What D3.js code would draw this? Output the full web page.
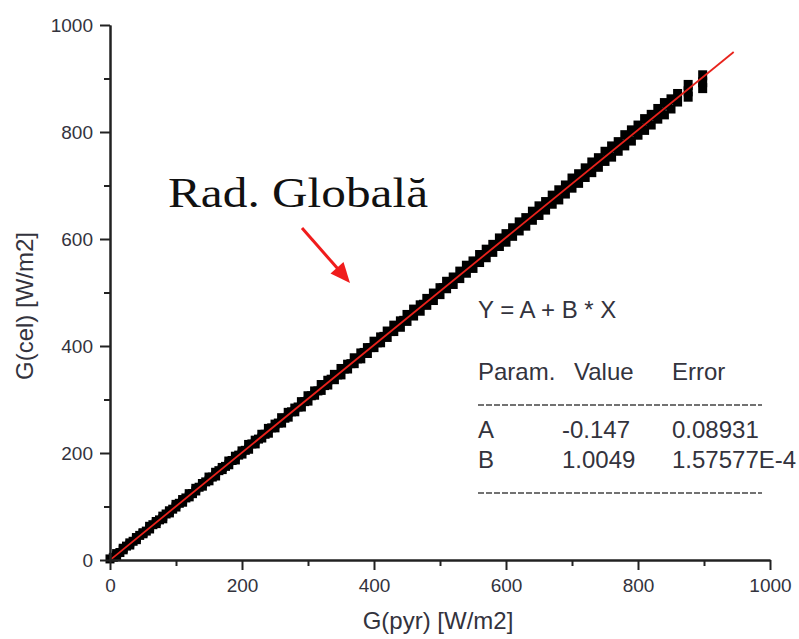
<!DOCTYPE html>
<html><head><meta charset="utf-8">
<script src="https://cdn.jsdelivr.net/npm/d3@7"></script>
<style>body{margin:0;background:#fff}svg{display:block}</style>
</head><body>
<svg id="c" width="799" height="639"></svg>
<script>
// ---- data ----
const xTicks = [0, 200, 400, 600, 800, 1000];
const xMinor = [100, 300, 500, 700, 900];
const yTicks = [0, 200, 400, 600, 800, 1000];
const yMinor = [100, 300, 500, 700, 900];

const upperBand = [[0,2],[10,12],[20,22],[30,32],[40,42],[50,51],[60,63],[70,72],[80,82],[90,92],[100,104],[110,113],[120,124],[130,134],[140,143],[150,155],[160,164],[170,173],[180,185],[190,194],[200,204],[210,216],[220,224],[230,235],[240,246],[250,254],[260,266],[270,276],[280,284],[290,296],[300,307],[310,316],[320,328],[330,336],[340,347],[350,358],[360,366],[370,378],[380,387],[390,397],[400,409],[410,417],[420,428],[430,439],[440,447],[450,459],[460,469],[470,477],[480,489],[490,499],[500,509],[510,521],[520,529],[530,540],[540,551],[550,559],[560,571],[570,581],[580,590],[590,602],[600,610],[610,621],[620,632],[630,640],[640,652],[650,662],[660,670],[670,682],[680,692],[690,701],[700,714],[710,722],[720,733],[730,744],[740,752],[750,764],[760,774],[770,782],[780,795],[790,804],[800,813],[810,825],[820,833],[830,844],[840,855],[850,862],[860,872]];
const centerBand = [[5,5],[15,14],[25,26],[35,35],[45,46],[55,54],[65,66],[75,75],[85,86],[95,95],[105,106],[115,116],[125,124],[135,136],[145,146],[155,155],[165,167],[175,175],[185,186],[195,196],[205,205],[215,217],[225,226],[235,235],[245,247],[255,256],[265,265],[275,277],[285,286],[295,296],[305,307],[315,316],[325,326],[335,338],[345,346],[355,357],[365,367],[375,376],[385,388],[395,397],[405,406],[415,418],[425,427],[435,437],[445,448],[455,457],[465,467],[475,478],[485,487],[495,497],[505,509],[515,517],[525,528],[535,539],[545,547],[555,558],[565,569],[575,577],[585,588],[595,599],[605,607],[615,619],[625,629],[635,637],[645,649],[655,659],[665,667],[675,679],[685,689],[695,698],[705,710],[715,719],[725,728],[735,740],[745,748],[755,759],[765,770],[775,778],[785,789],[795,800],[805,808],[815,820],[825,830],[835,838],[845,850],[855,860]];
const lowerBand = [[10,8],[20,19],[30,28],[40,38],[50,49],[60,58],[70,68],[80,77],[90,88],[100,99],[110,108],[120,118],[130,129],[140,138],[150,148],[160,157],[170,169],[180,178],[190,187],[200,198],[210,207],[220,217],[230,228],[240,237],[250,247],[260,256],[270,267],[280,277],[290,286],[300,297],[310,308],[320,317],[330,327],[340,337],[350,346],[360,357],[370,367],[380,376],[390,386],[400,397],[410,406],[420,416],[430,427],[440,435],[450,446],[460,456],[470,465],[480,476],[490,485],[500,496],[510,507],[520,515],[530,526],[540,536],[550,545],[560,556],[570,565],[580,575],[590,586],[600,594],[610,605],[620,615],[630,624],[640,635],[650,644],[660,654],[670,665],[680,673],[690,684],[700,695],[710,704],[720,715],[730,724],[740,734],[750,745],[760,753],[770,764],[780,774],[790,783],[800,794],[810,803],[820,813],[830,824],[840,832],[850,843],[860,856]];
const outliers = [[876,866],[876,876],[876,888],[898,882],[898,893],[898,906]];

const fitA = -0.147, fitB = 1.0049;
const fitRange = [0, 945];
const fitEquation = "Y = A + B * X";
const tableHeader = ["Param.", "Value", "Error"];
const tableRows = [["A", "-0.147", "0.08931"], ["B", "1.0049", "1.57577E-4"]];
const annotation = "Rad. Globală";
const xTitle = "G(pyr) [W/m2]";
const yTitle = "G(cel) [W/m2]";

// ---- chart ----
const svg = d3.select("#c");
const x = d3.scaleLinear().domain([0, 1000]).range([110, 770]);
const y = d3.scaleLinear().domain([0, 1000]).range([560, 25]);
const txt = "#33333d";
const font = "'Liberation Sans', Arial, sans-serif";

// points
const pts = upperBand.concat(centerBand, lowerBand);
const ms = 9;
svg.append("g").selectAll("rect").data(pts).join("rect")
  .attr("x", d => x(d[0]) - ms/2).attr("y", d => y(d[1]) - ms/2)
  .attr("width", ms).attr("height", ms).attr("fill", "#000");
svg.append("g").selectAll("rect").data(outliers).join("rect")
  .attr("x", d => x(d[0]) - 4.5).attr("y", d => y(d[1]) - 5)
  .attr("width", 9).attr("height", 10).attr("fill", "#000");

// fit line
svg.append("line")
  .attr("x1", x(fitRange[0])).attr("y1", y(fitA + fitB * fitRange[0]))
  .attr("x2", x(fitRange[1])).attr("y2", y(fitA + fitB * fitRange[1]))
  .attr("stroke", "#e8231c").attr("stroke-width", 1.8);

// axes
function styleAxis(g) {
  g.select(".domain").attr("stroke", "#222").attr("stroke-width", 2);
  g.selectAll(".tick line").attr("stroke", "#222").attr("stroke-width", 2);
  g.selectAll("text").attr("font-family", font).attr("font-size", 19).attr("fill", txt);
}
svg.append("g").attr("transform", "translate(0,560)")
  .call(d3.axisBottom(x).tickValues(xMinor).tickSize(6).tickSizeOuter(0).tickFormat(""))
  .call(styleAxis);
svg.append("g").attr("transform", "translate(0,560)")
  .call(d3.axisBottom(x).tickValues(xTicks).tickSize(10).tickSizeOuter(0).tickPadding(9).tickFormat(d3.format("d")))
  .call(styleAxis);
svg.append("g").attr("transform", "translate(110,0)")
  .call(d3.axisLeft(y).tickValues(yMinor).tickSize(6).tickSizeOuter(0).tickFormat(""))
  .call(styleAxis);
svg.append("g").attr("transform", "translate(110,0)")
  .call(d3.axisLeft(y).tickValues(yTicks).tickSize(10).tickSizeOuter(0).tickPadding(7).tickFormat(d3.format("d")))
  .call(styleAxis);

// axis titles
svg.append("text").attr("x", 438).attr("y", 629).attr("text-anchor", "middle")
  .attr("font-family", font).attr("font-size", 24).attr("fill", txt).text(xTitle);
svg.append("text").attr("transform", "translate(33,306) rotate(-90)").attr("text-anchor", "middle")
  .attr("font-family", font).attr("font-size", 24).attr("fill", txt).text(yTitle);

// annotation
svg.append("text").attr("x", 168).attr("y", 207)
  .attr("font-family", "'Liberation Serif', 'Times New Roman', serif").attr("font-size", 42)
  .attr("fill", "#111").attr("textLength", 260).attr("lengthAdjust", "spacingAndGlyphs").text(annotation);
svg.append("line").attr("x1", 302).attr("y1", 228).attr("x2", 338).attr("y2", 269)
  .attr("stroke", "#f01c1c").attr("stroke-width", 3);
svg.append("polygon").attr("points", "350,283 330.5,273.5 343.5,262")
  .attr("fill", "#f01c1c");

// fit table
const tf = (xx, yy, s) => svg.append("text").attr("x", xx).attr("y", yy)
  .attr("font-family", font).attr("font-size", 24).attr("fill", txt).text(s);
tf(478, 318, fitEquation);
const cols = [478, 574, 672];
tableHeader.forEach((s, i) => tf(cols[i], 380, s));
tableRows.forEach((r, j) => r.forEach((s, i) => tf(i === 1 ? 562 : cols[i], 438 + j * 30, s)));
[405, 493].forEach(yy => svg.append("line").attr("x1", 478).attr("x2", 762)
  .attr("y1", yy).attr("y2", yy).attr("stroke", "#444").attr("stroke-width", 1.3)
  .attr("stroke-dasharray", "6,2"));
</script>
</body></html>
